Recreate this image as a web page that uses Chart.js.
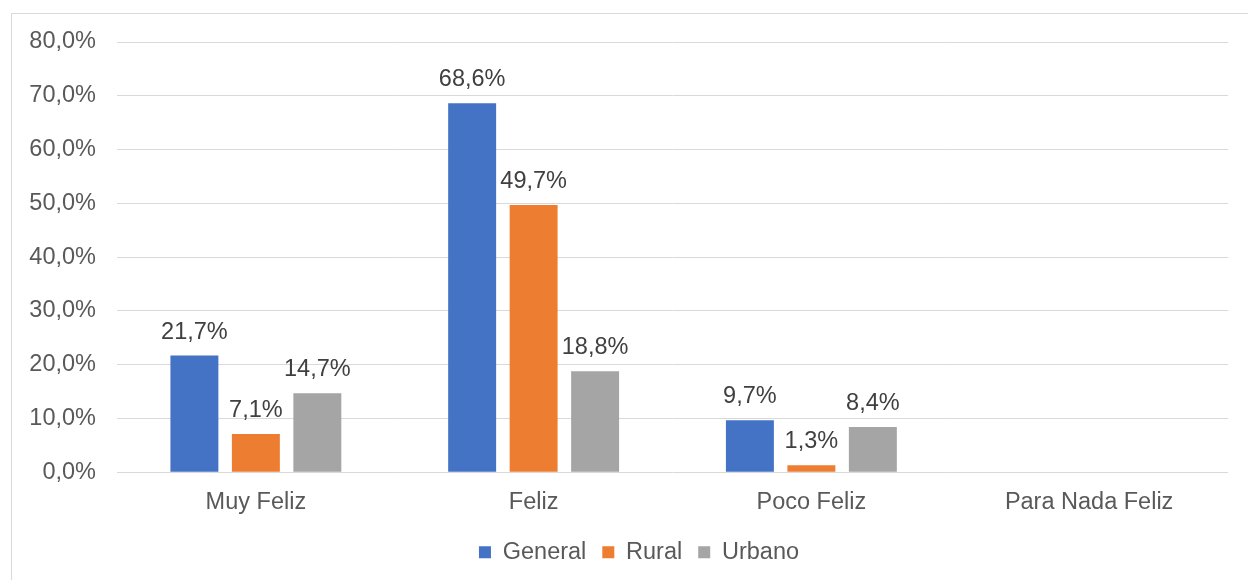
<!DOCTYPE html>
<html>
<head>
<meta charset="utf-8">
<script src="https://cdn.jsdelivr.net/npm/chart.js@4/dist/chart.umd.min.js"></script>
<style>
  body { margin: 0; background: #fff; }
  #marco { position: absolute; left: 11px; top: 13px; width: 1300px; height: 600px; border: 1px solid #d9d9d9; }
  #grafico { position: absolute; left: 0; top: 0; }
</style>
</head>
<body>
<div id="marco"></div>
<canvas id="grafico" width="1248" height="580"></canvas>
<script>
// Datos del gráfico
const categorias = ['Muy Feliz', 'Feliz', 'Poco Feliz', 'Para Nada Feliz'];
const general = [21.7, 68.6, 9.7, null];
const rural = [7.1, 49.7, 1.3, null];
const urbano = [14.7, 18.8, 8.4, null];
const etiquetasY = ['0,0%', '10,0%', '20,0%', '30,0%', '40,0%', '50,0%', '60,0%', '70,0%', '80,0%'];

const fuente = "'Liberation Sans', Arial, sans-serif";
const tam = 23.5;

// Etiquetas de valor sobre cada barra
const etiquetasBarras = {
    id: 'etiquetasBarras',
    afterDatasetsDraw(chart) {
        const ctx = chart.ctx;
        ctx.save();
        ctx.font = tam + 'px ' + fuente;
        ctx.fillStyle = '#404040';
        ctx.textAlign = 'center';
        ctx.textBaseline = 'alphabetic';
        chart.data.datasets.forEach((ds, i) => {
            chart.getDatasetMeta(i).data.forEach((bar, j) => {
                const v = ds.data[j];
                if (v === null || v === undefined) return;
                ctx.fillText(v.toFixed(1).replace('.', ',') + '%', bar.x, bar.y - 17);
            });
        });
        ctx.restore();
    }
};

// La leyenda va centrada sobre todo el marco, no solo hasta el margen derecho
const moverLeyenda = {
    id: 'moverLeyenda',
    afterLayout(chart) {
        chart.legend.left += 25;
        chart.legend.right += 25;
    }
};

new Chart(document.getElementById('grafico'), {
    type: 'bar',
    data: {
        labels: categorias,
        datasets: [
            { label: 'General', data: general, backgroundColor: '#4472C4' },
            { label: 'Rural', data: rural, backgroundColor: '#ED7D31' },
            { label: 'Urbano', data: urbano, backgroundColor: '#A5A5A5' }
        ]
    },
    options: {
        responsive: false,
        animation: false,
        categoryPercentage: 0.664,
        barPercentage: 0.78,
        layout: { padding: { top: 42, right: 20, bottom: 6, left: 0 } },
        plugins: {
            legend: {
                position: 'bottom',
                labels: {
                    color: '#595959',
                    font: { family: fuente, size: tam },
                    boxWidth: 12,
                    boxHeight: 12,
                    padding: 16
                }
            },
            tooltip: { enabled: false }
        },
        scales: {
            x: {
                grid: { display: false },
                border: { display: false },
                ticks: { color: '#595959', font: { family: fuente, size: tam }, padding: 8 }
            },
            y: {
                min: 0,
                max: 80,
                afterFit: (scale) => { scale.width = 117; },
                grid: { color: '#d9d9d9', lineWidth: 1, drawTicks: false },
                border: { display: false },
                ticks: {
                    stepSize: 10,
                    color: '#595959',
                    font: { family: fuente, size: tam },
                    padding: 21,
                    callback: (v, i) => etiquetasY[i]
                }
            }
        }
    },
    plugins: [etiquetasBarras, moverLeyenda]
});
</script>
</body>
</html>
